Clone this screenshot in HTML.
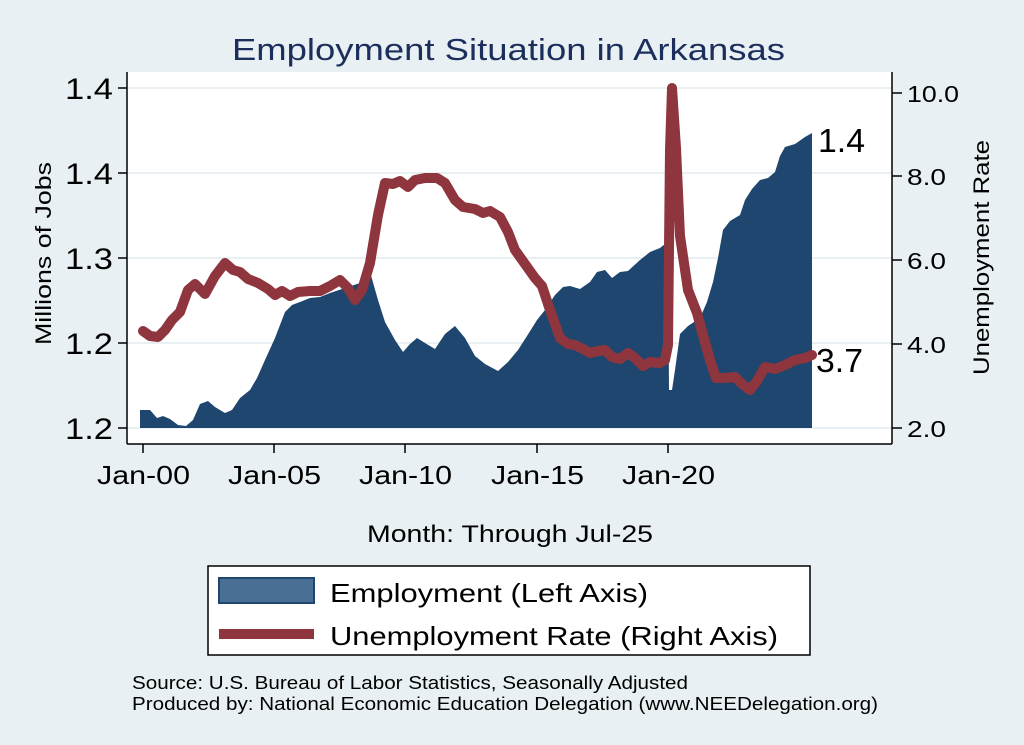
<!DOCTYPE html><html><head><meta charset="utf-8"><style>body{margin:0;background:#e9f0f3}svg{display:block;font-family:"Liberation Sans",sans-serif}</style></head><body>
<svg width="1024" height="745" viewBox="0 0 1024 745">
<rect width="1024" height="745" fill="#e9f0f3"/>
<text x="232" y="60" font-size="31" fill="#1c2f5c" textLength="553" lengthAdjust="spacingAndGlyphs">Employment Situation in Arkansas</text>
<rect x="127" y="72" width="765" height="372" fill="#fff"/>
<g stroke="#e9f0f3" stroke-width="2"><line x1="127" x2="892" y1="88" y2="88"/><line x1="127" x2="892" y1="173" y2="173"/><line x1="127" x2="892" y1="258" y2="258"/><line x1="127" x2="892" y1="343" y2="343"/><line x1="127" x2="892" y1="428" y2="428"/></g>
<path fill="#1e466e" d="M140,428 L140,410 150,410 157,418 163,416 170,419 178,425 186,426 193,420 200,404 208,401 215,407 225,413 232,410 240,398 250,390 257,378 265,360 275,338 285,312 292,305 300,302 310,298 320,297 330,293 345,288 360,283 370,272 378,300 385,322 395,340 403,352 410,344 417,338 425,343 435,349 445,334 455,326 465,338 475,356 485,364 498,371 508,362 518,350 527,336 537,320 545,310 555,295 563,287 570,286 580,289 590,282 597,272 605,270 612,278 620,272 628,271 640,260 650,252 660,248 665,244 668,244 669,390 672,390 675,370 680,334 688,326 700,318 707,302 713,282 718,258 723,230 730,221 740,215 745,200 752,189 760,180 768,178 775,172 780,156 785,147 795,144 805,137 812,133 812,428 Z"/>
<polyline fill="none" stroke="#8f353d" stroke-width="10" stroke-linejoin="round" stroke-linecap="round" points="143,331 150,336 158,337 165,330 172,320 180,312 188,290 195,284 205,294 215,276 225,263 233,270 240,272 248,279 258,283 268,289 275,295 282,291 290,296 298,292 310,291 320,291 330,286 340,280 348,288 355,300 362,290 370,263 378,215 385,183 393,184 400,181 408,187 415,180 425,178 437,178 445,183 455,200 463,207 475,209 483,213 490,211 500,217 508,232 515,250 525,264 535,278 542,286 550,310 560,338 568,344 575,345 583,349 590,353 598,351 605,350 612,357 620,359 628,353 635,358 643,366 650,362 660,363 665,360 668,345 670,150 672,88 676,148 680,236 688,290 697,313 703,335 710,360 716,378 725,378 735,377 742,384 750,390 757,381 765,367 775,369 785,365 795,360 805,358 812,355"/>
<g stroke="#000" stroke-width="1.5" fill="none"><path d="M127,72 V444 M118,88 H127 M118,173 H127 M118,258 H127 M118,343 H127 M118,428 H127"/><path d="M892,72 V444 M892,93 H902 M892,176 H902 M892,260 H902 M892,344 H902 M892,428 H902"/><path d="M127,444 H892 M143,444 V453 M274,444 V453 M405,444 V453 M537,444 V453 M668,444 V453"/></g>
<g font-size="30"><text x="65" y="99" textLength="48" lengthAdjust="spacingAndGlyphs">1.4</text><text x="65" y="184" textLength="48" lengthAdjust="spacingAndGlyphs">1.4</text><text x="65" y="269" textLength="48" lengthAdjust="spacingAndGlyphs">1.3</text><text x="65" y="354" textLength="48" lengthAdjust="spacingAndGlyphs">1.2</text><text x="65" y="439" textLength="48" lengthAdjust="spacingAndGlyphs">1.2</text></g>
<g font-size="23"><text x="907" y="102" textLength="52" lengthAdjust="spacingAndGlyphs">10.0</text><text x="907" y="185" textLength="39" lengthAdjust="spacingAndGlyphs">8.0</text><text x="907" y="269" textLength="39" lengthAdjust="spacingAndGlyphs">6.0</text><text x="907" y="353" textLength="39" lengthAdjust="spacingAndGlyphs">4.0</text><text x="907" y="437" textLength="39" lengthAdjust="spacingAndGlyphs">2.0</text></g>
<g font-size="26"><text x="97" y="484" textLength="93" lengthAdjust="spacingAndGlyphs">Jan-00</text><text x="228" y="484" textLength="93" lengthAdjust="spacingAndGlyphs">Jan-05</text><text x="359" y="484" textLength="93" lengthAdjust="spacingAndGlyphs">Jan-10</text><text x="491" y="484" textLength="93" lengthAdjust="spacingAndGlyphs">Jan-15</text><text x="622" y="484" textLength="93" lengthAdjust="spacingAndGlyphs">Jan-20</text></g>
<text x="818" y="152" font-size="33" textLength="47" lengthAdjust="spacingAndGlyphs">1.4</text><text x="816" y="372" font-size="33" textLength="47" lengthAdjust="spacingAndGlyphs">3.7</text>
<text transform="translate(51,345) rotate(-90)" font-size="22" textLength="183" lengthAdjust="spacingAndGlyphs">Millions of Jobs</text>
<text transform="translate(989,375) rotate(-90)" font-size="22" textLength="235" lengthAdjust="spacingAndGlyphs">Unemployment Rate</text>
<text x="367" y="542" font-size="24" textLength="286" lengthAdjust="spacingAndGlyphs">Month: Through Jul-25</text>
<rect x="208" y="566" width="602" height="89" fill="#fff" stroke="#000" stroke-width="1.5"/>
<rect x="219" y="578" width="95" height="25" fill="#4a6f94" stroke="#1e466e" stroke-width="2"/>
<text x="330" y="602" font-size="26" textLength="318" lengthAdjust="spacingAndGlyphs">Employment (Left Axis)</text>
<line x1="219" x2="314" y1="634" y2="634" stroke="#8f353d" stroke-width="10"/>
<text x="330" y="645" font-size="26" textLength="448" lengthAdjust="spacingAndGlyphs">Unemployment Rate (Right Axis)</text>
<text x="132" y="689" font-size="18" textLength="556" lengthAdjust="spacingAndGlyphs">Source: U.S. Bureau of Labor Statistics, Seasonally Adjusted</text>
<text x="132" y="710" font-size="18" textLength="746" lengthAdjust="spacingAndGlyphs">Produced by: National Economic Education Delegation (www.NEEDelegation.org)</text>
</svg></body></html>
